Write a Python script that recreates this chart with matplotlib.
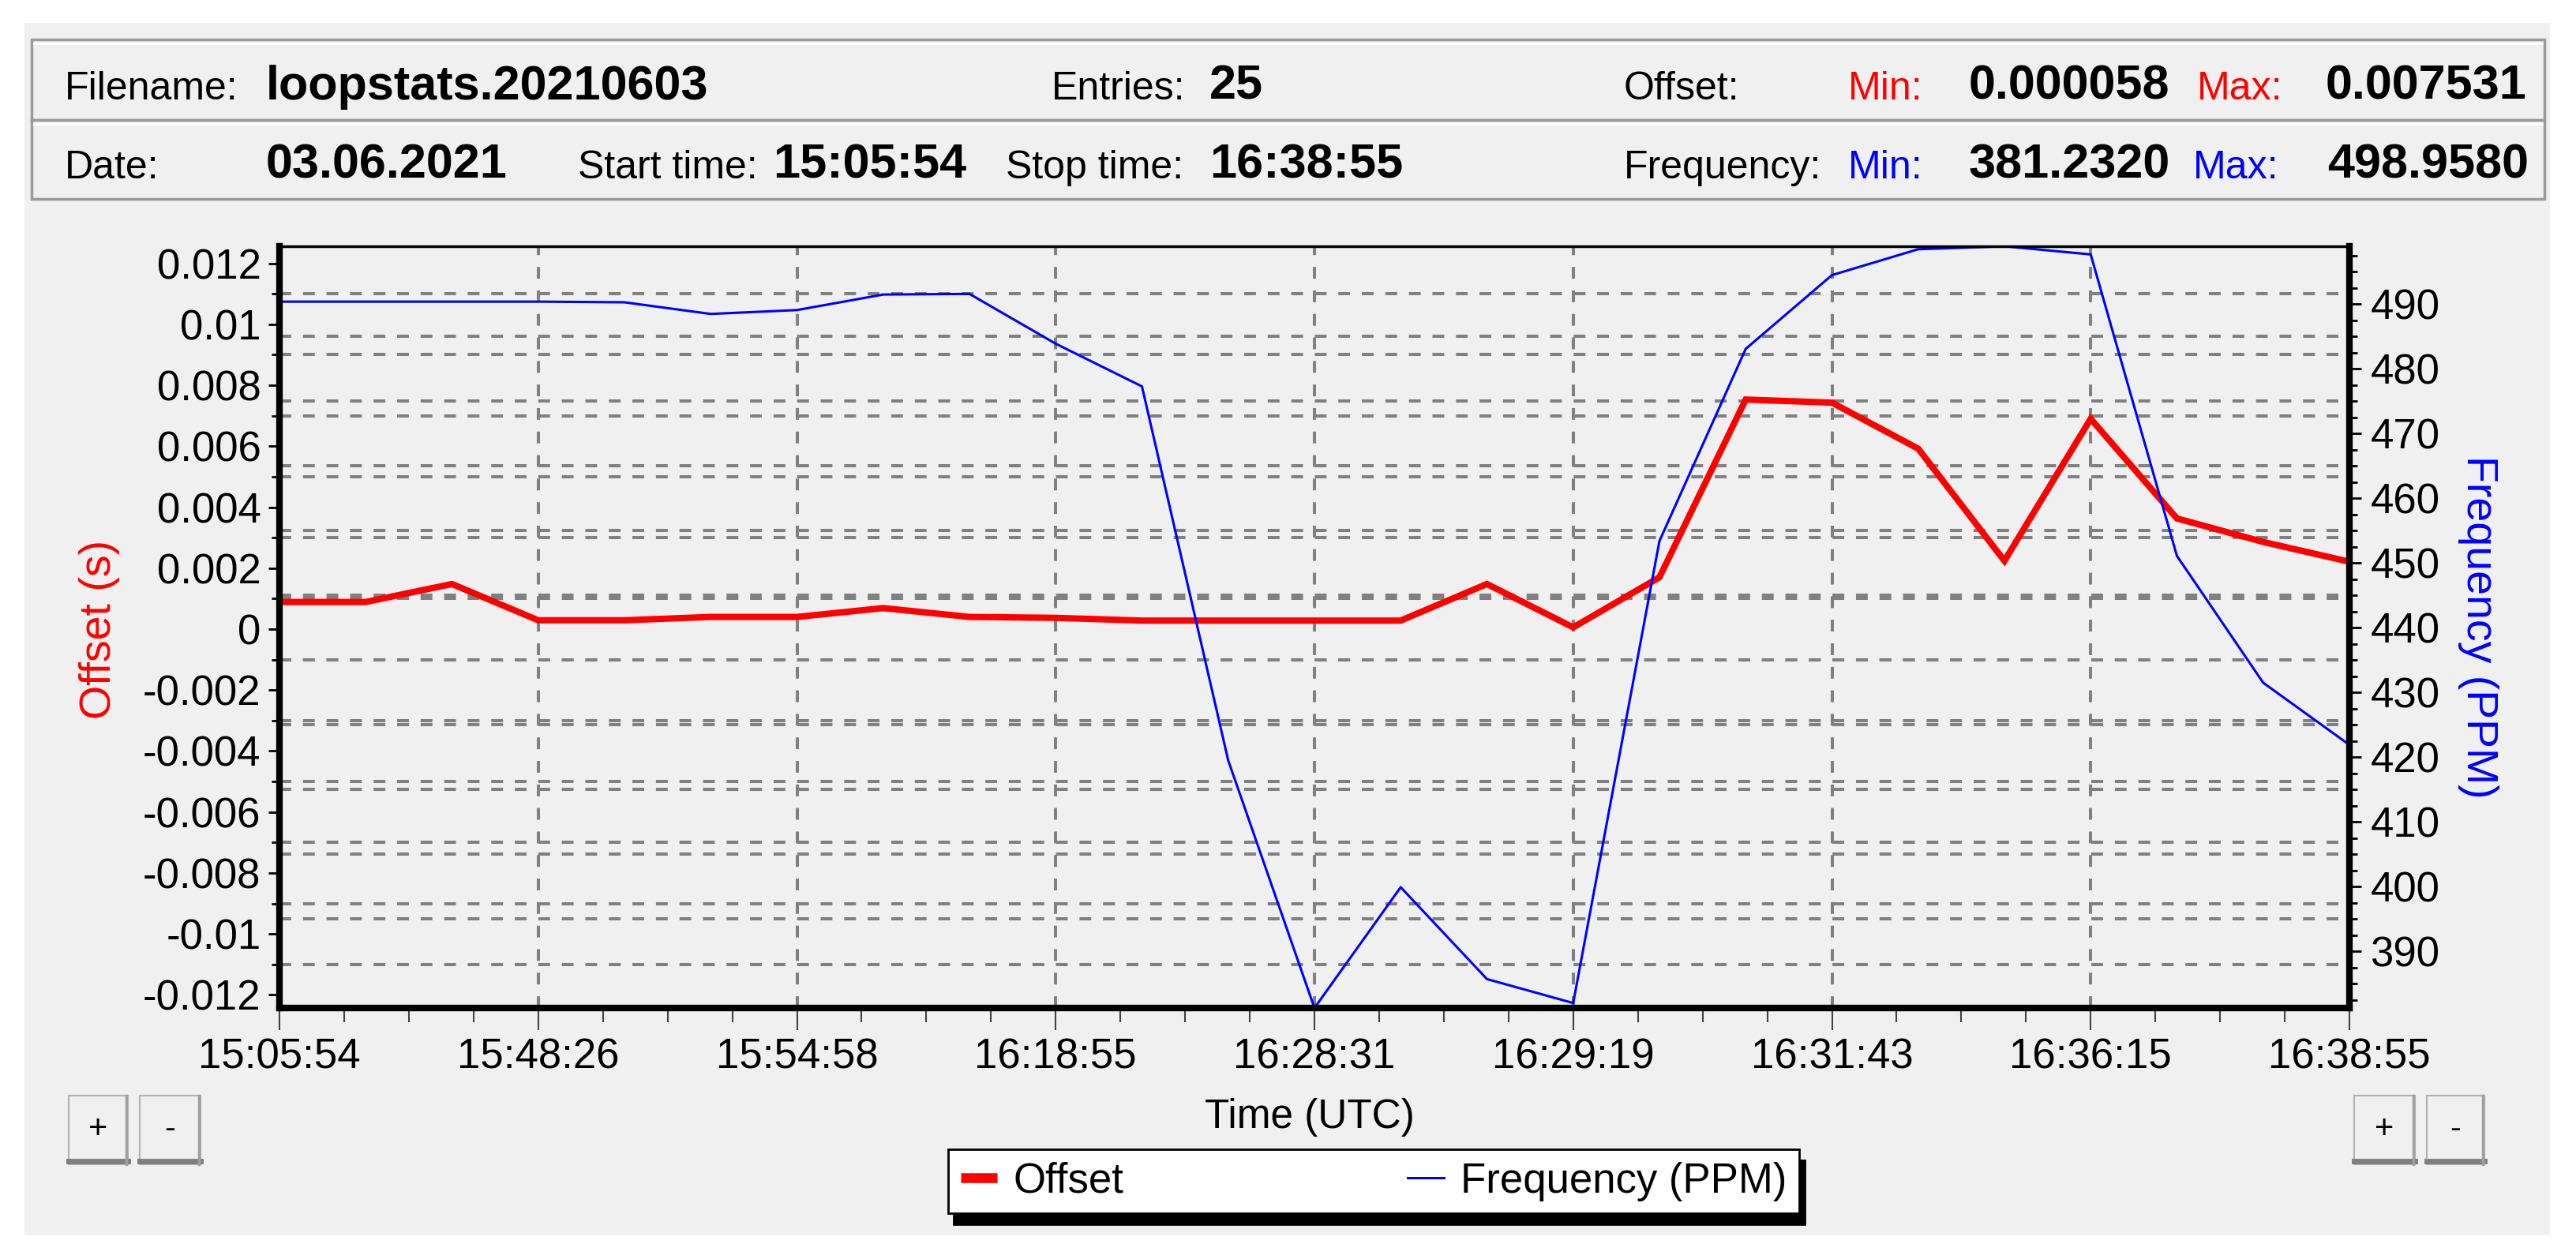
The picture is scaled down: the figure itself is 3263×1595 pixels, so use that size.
import numpy as np
import matplotlib
matplotlib.use('Agg')
import matplotlib.pyplot as plt
from matplotlib import font_manager as fm
from matplotlib.patches import Rectangle
from matplotlib.lines import Line2D
from matplotlib.ticker import FixedLocator, MultipleLocator, FuncFormatter

# values (25 entries, x = entry index)
offset_s = [0.00089, 0.00089, 0.00148, 0.00029, 0.00029, 0.00040, 0.00040,
            0.00069, 0.00040, 0.00037, 0.00028, 0.00028, 0.00028, 0.00028,
            0.00148, 0.000058, 0.00170, 0.007531, 0.00743, 0.00592, 0.00224,
            0.00690, 0.00363, 0.00286, 0.00221]
freq_ppm = [490.4, 490.4, 490.4, 490.4, 490.3, 488.5, 489.1, 491.5, 491.6,
            483.9, 477.3, 419.5, 381.232, 399.9, 385.7, 382.0, 453.4, 483.1,
            494.5, 498.5, 498.958, 497.7, 451.1, 431.5, 421.9]
time_labels = ['15:05:54', '15:48:26', '15:54:58', '16:18:55', '16:28:31',
               '16:29:19', '16:31:43', '16:36:15', '16:38:55']
offset_ticks = [-0.012, -0.01, -0.008, -0.006, -0.004, -0.002, 0,
                0.002, 0.004, 0.006, 0.008, 0.01, 0.012]
freq_ticks = [390, 400, 410, 420, 430, 440, 450, 460, 470, 480, 490]
freq_grid = [395, 405, 415, 425, 435, 445, 455, 465, 475, 485]

filename = 'loopstats.20210603'
date_str = '03.06.2021'
entries = '25'
start_time = '15:05:54'
stop_time = '16:38:55'
off_min, off_max = '0.000058', '0.007531'
frq_min, frq_max = '381.2320', '498.9580'

plt.rcParams['font.family'] = ['Liberation Sans', 'DejaVu Sans']
names = {f.name for f in fm.fontManager.ttflist}
if 'Liberation Sans Narrow' in names:
    narrow, nsize = ['Liberation Sans Narrow', 'DejaVu Sans'], 44
else:
    narrow, nsize = ['Liberation Sans', 'DejaVu Sans'], 36

W, H, DPI = 3263, 1595, 100
fig = plt.figure(figsize=(W / DPI, H / DPI), dpi=DPI)
fig.patch.set_facecolor('white')


def fx(x):
    return x / W


def fy(y):
    return 1 - y / H


def rect(x0, y0, x1, y1, **kw):
    fig.add_artist(Rectangle((fx(x0), fy(y1)), (x1 - x0) / W, (y1 - y0) / H,
                             transform=fig.transFigure, **kw))


def hline(x0, x1, y, **kw):
    fig.add_artist(Line2D([fx(x0), fx(x1)], [fy(y), fy(y)],
                          transform=fig.transFigure, **kw))


# window background
rect(31, 29, 3230, 1565, fc='#f0f0f0', ec='none', zorder=0)

# header boxes
for y0, y1 in [(50, 152), (152, 252)]:
    rect(40, y0, 3223, y1, fc='#f0f0f0', ec='#9a9a9a', lw=2.5, zorder=1)
    hline(43, 3220, y0 + 5, color='white', lw=2, zorder=1)

def hdr(x, y, s, bold=False, color='black'):
    if bold:
        fig.text(fx(x), fy(y), s, fontsize=44, fontweight='bold', color=color,
                 ha='left', va='baseline', family=['Liberation Sans', 'DejaVu Sans'])
    else:
        fig.text(fx(x), fy(y), s, fontsize=nsize, color=color,
                 ha='left', va='baseline', family=narrow)

r1, r2 = 126, 226
hdr(82, r1, 'Filename:')
hdr(337, r1, filename, bold=True)
hdr(1332, r1, 'Entries:')
hdr(1532, r1, entries, bold=True)
hdr(2057, r1, 'Offset:')
hdr(2341, r1, 'Min:', color='red')
hdr(2494, r1, off_min, bold=True)
hdr(2783, r1, 'Max:', color='red')
hdr(2946, r1, off_max, bold=True)

hdr(82, r2, 'Date:')
hdr(337, r2, date_str, bold=True)
hdr(732, r2, 'Start time:')
hdr(979, r2, start_time, bold=True)
hdr(1274, r2, 'Stop time:')
hdr(1532, r2, stop_time, bold=True)
hdr(2057, r2, 'Frequency:')
hdr(2341, r2, 'Min:', color='blue')
hdr(2494, r2, frq_min, bold=True)
hdr(2778, r2, 'Max:', color='blue')
hdr(2948, r2, frq_max, bold=True)

# axes: freq axis (bottom layer, background + its grid), offset axis, blue layer on top
x = np.arange(len(offset_s))
ax = fig.add_axes([fx(354), fy(1277), (2976 - 354) / W, (1277 - 312) / H])
axf = ax.twinx()
axb = ax.twinx()
axb.sharey(axf)
axf.set_zorder(0)
ax.set_zorder(1)
axb.set_zorder(2)
ax.patch.set_visible(False)
axf.patch.set_visible(True)
axf.patch.set_facecolor('#f0f0f0')
axb.patch.set_visible(False)

grid_kw = dict(color='#808080', lw=2.9, linestyle=(0, (3.7, 3.7)))

ax.set_xlim(0, len(offset_s) - 1)
ax.set_ylim(-0.01243, 0.01256)
axf.set_ylim(381.232, 498.958)

ax.xaxis.set_major_locator(FixedLocator(x[::3]))
ax.set_xticklabels(time_labels)
ax.xaxis.set_minor_locator(MultipleLocator(0.75))
ax.yaxis.set_major_locator(FixedLocator(offset_ticks))
ax.yaxis.set_minor_locator(MultipleLocator(0.001))
ax.yaxis.set_major_formatter(FuncFormatter(
    lambda v, p: '0' if abs(v) < 1e-9 else '%g' % round(v, 4)))

ax.grid(which='major', axis='x', **grid_kw)
ax.grid(which='minor', axis='y', **grid_kw)
for g in freq_grid:
    axf.axhline(g, **grid_kw)

axf.yaxis.set_major_locator(FixedLocator(freq_ticks))
axf.yaxis.set_minor_locator(MultipleLocator(2.5))

ax.plot(x, offset_s, color='#ff0000', lw=5.8, solid_joinstyle='miter', label='Offset')
axb.plot(x, freq_ppm, color='#0000ff', lw=2.2, label='Frequency (PPM)')

# ticks
ax.tick_params(axis='x', which='major', direction='out', length=20, width=1.5,
               pad=7, labelsize=38, color='#404040')
ax.tick_params(axis='x', which='minor', direction='out', length=13, width=1.5,
               color='#404040')
ax.tick_params(axis='y', which='major', direction='out', length=10, width=2,
               pad=7, labelsize=38)
ax.tick_params(axis='y', which='minor', direction='out', length=7, width=2)
axf.tick_params(axis='y', which='major', direction='out', length=11, width=2,
                pad=8, labelsize=38)
axf.tick_params(axis='y', which='minor', direction='out', length=7, width=2)
axb.tick_params(axis='y', which='both', right=False, labelright=False,
                left=False, labelleft=False)

for a in (ax, axf):
    for s in a.spines.values():
        s.set_visible(False)
for side in ('left', 'bottom', 'right'):
    axb.spines[side].set_linewidth(6)
axb.spines['top'].set_linewidth(2.5)
for s in axb.spines.values():
    s.set_color('black')

# axis labels
ax.set_xlabel('Time (UTC)', fontsize=37, va='center')
ax.xaxis.set_label_coords((1659 - 354) / 2622, (1277 - 1415) / 965)
ax.set_ylabel('Offset (s)', fontsize=40, color='red', va='center')
ax.yaxis.set_label_coords((126 - 354) / 2622, (1277 - 797) / 965)
axf.set_ylabel('Frequency (PPM)', fontsize=40, color='blue', rotation=270,
               va='center')
axf.yaxis.set_label_coords((3139 - 354) / 2622, (1277 - 794) / 965)

# legend
h1 = Line2D([], [], color='#ff0000', lw=9, solid_capstyle='butt')
h2 = Line2D([], [], color='#0000ff', lw=2.2)
leg = fig.legend([h1, h2], ['Offset', 'Frequency (PPM)'], loc='center',
                 bbox_to_anchor=(fx(1201), fy(1540), (2279 - 1201) / W, (1540 - 1453) / H),
                 bbox_transform=fig.transFigure, mode='expand', ncol=2,
                 borderaxespad=0, fontsize=38, handlelength=0.87,
                 handletextpad=0.4, borderpad=0.3,
                 fancybox=False, edgecolor='black', facecolor='white', framealpha=1,
                 shadow={'color': 'black', 'alpha': 1, 'ox': 5, 'oy': -10})
leg.get_frame().set_linewidth(2)

# zoom buttons
def button(x0, x1, label):
    y0, y1 = 1388, 1475
    rect(x0, y0, x1, y1, fc='#f0f0f0', ec='#b0b0b0', lw=1.5, zorder=2)
    hline(x0, x1, y1 - 4, color='#808080', lw=5, zorder=2)
    fig.add_artist(Line2D([fx(x1 - 2), fx(x1 - 2)], [fy(y0), fy(y1)],
                          transform=fig.transFigure, color='#a0a0a0', lw=2.5, zorder=2))
    fig.text(fx((x0 + x1) / 2), fy((y0 + y1) / 2), label, fontsize=30,
             ha='center', va='center', zorder=3)

button(87, 162, '+')
button(177, 254, '-')
button(2982, 3059, '+')
button(3074, 3147, '-')

fig.savefig('out.png', dpi=DPI, facecolor=fig.get_facecolor())
